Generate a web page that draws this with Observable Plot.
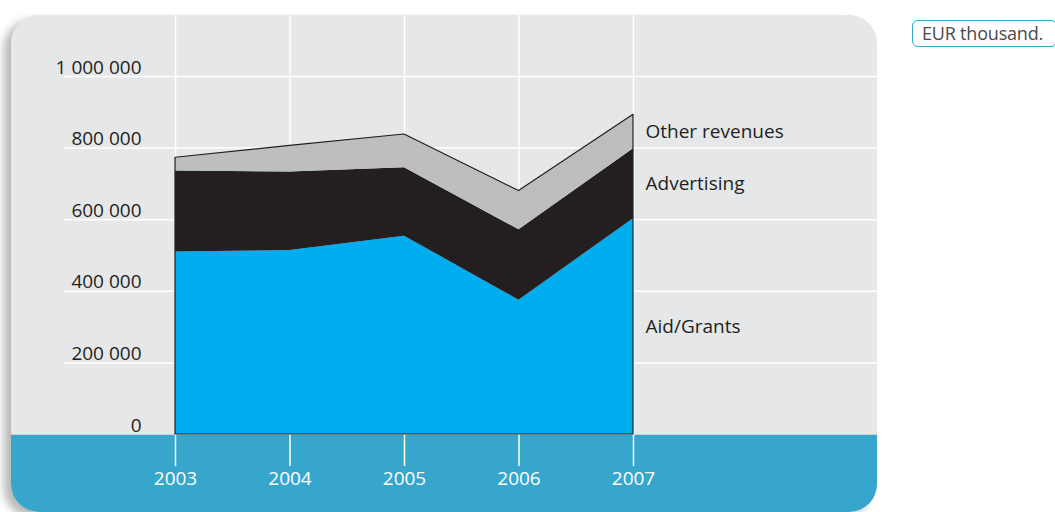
<!DOCTYPE html>
<html><head><meta charset="utf-8">
<script src="https://cdn.jsdelivr.net/npm/d3@7"></script>
<script src="https://cdn.jsdelivr.net/npm/@observablehq/plot@0.6"></script>
<style>
html,body{margin:0;padding:0;background:#fff;}
#wrap{position:relative;width:1055px;height:512px;overflow:hidden;font-family:"Open Sans",sans-serif;}
#panel{position:absolute;left:11px;top:15px;width:866px;height:497px;background:#e6e7e9;border-radius:28px;overflow:hidden;box-shadow:-7px 5px 8px rgba(0,0,0,0.28);}
#band{position:absolute;left:0;top:419px;width:100%;height:100px;background:#36a6cc;border-top:1px solid #cfd3d7;}
#unit{position:absolute;left:912px;top:20px;width:145px;height:27px;border:1.5px solid #36a6cc;border-radius:6px;box-sizing:border-box;font-size:18px;line-height:24px;padding-left:9px;color:#4a4a4a;white-space:nowrap;letter-spacing:-0.2px;}
#chart{position:absolute;left:0;top:0;}
</style></head>
<body>
<div id="wrap">
  <div id="panel"><div id="band"></div></div>
  <div id="chart"></div>
  <div id="unit"></div>
</div>
<script>
const years = [2003, 2004, 2005, 2006, 2007];
const aidGrants = [510000, 514000, 554000, 375000, 603000];
const advertising = [226000, 219000, 191000, 197000, 195000];
const otherRevenues = [37000, 73000, 93000, 108000, 95000];
const seriesNames = ["Aid/Grants", "Advertising", "Other revenues"];
const seriesColors = ["#00adee", "#231f20", "#bcbec0"];
const yTicks = [0, 200000, 400000, 600000, 800000, 1000000];
const unitLabel = "EUR thousand.";

document.getElementById("unit").textContent = unitLabel;

const seriesValues = [aidGrants, advertising, otherRevenues];
const rows = [];
seriesNames.forEach((s, si) => years.forEach((y, i) => rows.push({series: s, year: y, value: seriesValues[si][i]})));
const totals = years.map((y, i) => ({year: y, value: aidGrants[i] + advertising[i] + otherRevenues[i]}));
const lastYear = years[years.length - 1];
const lastRows = rows.filter(d => d.year === lastYear);
const fmt = v => d3.format(",")(v).replace(/,/g, " ");

const chart = Plot.plot({
  width: 1055,
  height: 512,
  marginTop: 15,
  marginBottom: 46,
  marginLeft: 64,
  marginRight: 178,
  style: {background: "transparent", fontFamily: "'Open Sans', sans-serif"},
  x: {domain: [2003, 2007], range: [175, 633], axis: null},
  y: {domain: [0, 1000000], range: [434, 76], axis: null},
  color: {domain: seriesNames, range: seriesColors},
  marks: [
    Plot.gridX(years, {stroke: "#ffffff", strokeOpacity: 1, strokeWidth: 1.5}),
    Plot.gridY(yTicks.filter(d => d > 0), {stroke: "#ffffff", strokeOpacity: 1, strokeWidth: 1.5}),
    Plot.areaY(rows, {x: "year", y: "value", z: "series", fill: "series", order: seriesNames}),
    Plot.areaY(totals, {x: "year", y: "value", fill: "none", stroke: "#231f20", strokeWidth: 1.2}),
    Plot.text(lastRows, Plot.stackY({x: "year", y: "value", z: "series", order: seriesNames, text: "series", textAnchor: "start", dx: 12, fill: "#231f20", fontSize: 19})),
    Plot.axisX(years, {tickSize: 0, tickPadding: 5, tickFormat: d => String(d), fill: "#ffffff", fontSize: 19, label: null}),
    Plot.axisY(yTicks, {anchor: "left", tickSize: 0, tickPadding: 0, tickFormat: fmt, textAnchor: "end", dx: 77, dy: -9, fill: "#231f20", fontSize: 19, label: null})
  ]
});
document.getElementById("chart").appendChild(chart);
</script>
</body></html>
